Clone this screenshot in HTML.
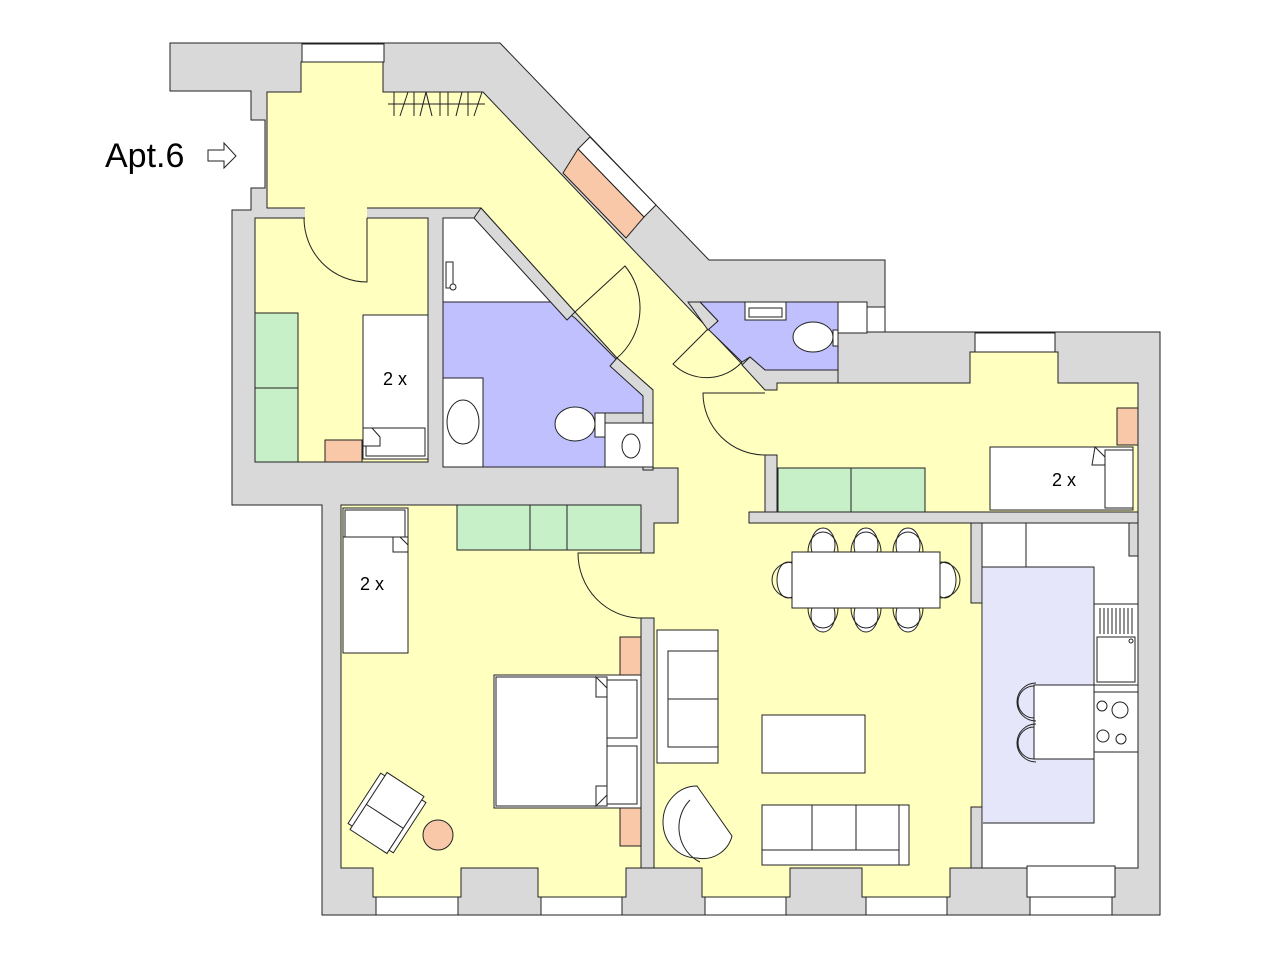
<!DOCTYPE html>
<html><head><meta charset="utf-8"><style>
html,body{margin:0;padding:0;background:#fff;}
svg{display:block;}
text{font-family:"Liberation Sans",sans-serif;}
</style></head><body>
<svg width="1266" height="960" viewBox="0 0 1266 960" xmlns="http://www.w3.org/2000/svg">
<g stroke="#222" stroke-width="1">
<polygon fill="#d9d9d9" points="170,43 500,43 709,260 885,260 885,332 1160,332 1160,915 322,915 322,505 232,505 232,210 251,210 251,188 265,188 265,120 251,120 251,91 170,91"/>

<polygon fill="#ffffc0" points="267,92 301,92 301,62 383,62 383,92 483,92 760,383 970,383 970,352 1058,352 1058,383 1138,383 1138,512 982,512 982,868 950,868 950,897 862,897 862,868 790,868 790,897 702,897 702,868 626,868 626,897 538,897 538,868 461,868 461,897 373,897 373,868 341,868 341,505 641,505 641,553 654,553 654,523 678,523 678,468 653,468 653,390 617,358 575,312 481,208 267,208"/>
<rect fill="#ffffc0" x="255" y="218" width="173" height="244"/>
<rect fill="#ffffc0" stroke="none" x="305" y="207" width="62" height="12"/>

<rect fill="#d9d9d9" x="641" y="618" width="13" height="250"/>
<rect fill="#d9d9d9" x="749" y="512" width="389" height="11"/>
<rect fill="#d9d9d9" x="765" y="455" width="12" height="57"/>
<rect fill="#d9d9d9" x="765" y="383" width="12" height="7"/>
<rect fill="#d9d9d9" x="971" y="523" width="11" height="80"/>
<rect fill="#d9d9d9" x="971" y="807" width="11" height="61"/>

<rect fill="#fff" x="982" y="523" width="156" height="345"/>
<rect fill="#fff" x="1027" y="866" width="88" height="31"/>
<rect fill="#d9d9d9" x="1129" y="523" width="9" height="33"/>
<rect fill="#e6e6fa" stroke="none" x="983" y="567" width="111" height="256"/>
<polyline fill="none" points="983,567 1094,567 1094,823 983,823"/>
<rect fill="#fff" x="982" y="523" width="44" height="44"/>
<rect fill="#fff" x="1094" y="604" width="44" height="81"/>
<rect fill="#fff" x="1097" y="637" width="38" height="45"/>
<g stroke-width="1">
<line x1="1100" y1="608" x2="1100" y2="634"/><line x1="1104" y1="608" x2="1104" y2="634"/><line x1="1108" y1="608" x2="1108" y2="634"/><line x1="1112" y1="608" x2="1112" y2="634"/><line x1="1116" y1="608" x2="1116" y2="634"/><line x1="1120" y1="608" x2="1120" y2="634"/><line x1="1124" y1="608" x2="1124" y2="634"/><line x1="1128" y1="608" x2="1128" y2="634"/><line x1="1132" y1="608" x2="1132" y2="634"/>
</g>
<circle fill="#fff" cx="1131" cy="641" r="2"/>
<rect fill="#fff" x="1094" y="692" width="44" height="60"/>
<circle fill="#fff" cx="1102" cy="706" r="5"/><circle fill="#fff" cx="1120" cy="710" r="8"/>
<circle fill="#fff" cx="1103" cy="736" r="6"/><circle fill="#fff" cx="1121" cy="739" r="5"/>
<rect fill="#fff" x="1034" y="685" width="60" height="74"/>
<path fill="none" d="M1034,686 A16,16 0 0 0 1034,718 M1036,683 A19,19 0 0 0 1036,721"/>
<path fill="none" d="M1034,727 A16,16 0 0 0 1034,759 M1036,724 A19,19 0 0 0 1036,762"/>

<polygon fill="#fff" points="443,218 476,218 552,302 443,302"/>
<polygon fill="#c0c0ff" points="443,302 552,302 575,318 617,360 643,390 643,413 605,413 605,467 443,467"/>
<polygon fill="#d9d9d9" points="481,208 575,312 567,320 474,218"/>
<polygon fill="#d9d9d9" points="617,358 653,390 653,470 643,470 643,396 610,366"/>
<rect fill="#fff" x="443" y="378" width="40" height="89"/>
<ellipse fill="#fff" cx="463" cy="422" rx="16" ry="22"/>
<rect fill="#fff" x="605" y="423" width="48" height="44"/>
<ellipse fill="#fff" cx="631" cy="446" rx="9" ry="12"/>
<ellipse fill="#fff" cx="575" cy="424" rx="20" ry="17"/>
<rect fill="#fff" x="595" y="413" width="10" height="24"/>
<rect fill="#fff" x="446" y="262" width="7" height="26"/>
<circle fill="#fff" cx="453" cy="287" r="3"/>

<polygon fill="#c0c0ff" points="700,302 838,302 838,370 765,370 750,357 742,362 708,329 718,321"/>
<polygon fill="#d9d9d9" points="688,302 700,302 718,321 708,330"/>
<polygon fill="#d9d9d9" points="750,357 765,370 838,370 838,383 777,383 777,390 765,390 742,365"/>
<rect fill="#fff" x="745" y="302" width="41" height="18"/>
<rect fill="#fff" x="749" y="308" width="33" height="9"/>
<ellipse fill="#fff" cx="813" cy="337" rx="20" ry="15"/>
<rect fill="#fff" x="833" y="330" width="5" height="16"/>
<rect fill="#fff" x="838" y="302" width="29" height="31"/>
<rect fill="#fff" x="867" y="307" width="18" height="25"/>

<rect fill="#fff" x="302" y="44" width="82" height="18"/>
<rect fill="#fff" x="975" y="333" width="80" height="19"/>
<rect fill="#fff" x="376" y="897" width="82" height="18"/>
<rect fill="#fff" x="541" y="897" width="81" height="18"/>
<rect fill="#fff" x="705" y="897" width="81" height="18"/>
<rect fill="#fff" x="866" y="897" width="81" height="18"/>
<rect fill="#fff" x="1030" y="897" width="82" height="18"/>
<polygon fill="#fff" points="590,137 656,205 644,217 578,149"/>
<polygon fill="#f8c8a8" points="563,173 578,149 644,217 626,238"/>

<g fill="none">
<line x1="388" y1="104" x2="485" y2="104"/>
<line x1="394" y1="92" x2="394" y2="116"/><line x1="400" y1="116" x2="408" y2="92"/><line x1="414" y1="92" x2="414" y2="116"/>
<line x1="420" y1="116" x2="426" y2="92"/><line x1="426" y1="92" x2="432" y2="116"/><line x1="440" y1="92" x2="440" y2="116"/>
<line x1="448" y1="92" x2="448" y2="116"/><line x1="456" y1="116" x2="462" y2="92"/><line x1="468" y1="92" x2="468" y2="116"/><line x1="474" y1="116" x2="482" y2="92"/>
</g>

<path fill="none" d="M367,218 L367,282 A63,64 0 0 1 304,218"/>
<path fill="none" d="M575,312 L625,266 A66,66 0 0 1 617,358"/>
<path fill="none" d="M708,329 L673,364 A48,48 0 0 0 742,362"/>
<path fill="none" d="M765,393 L703,393 A62,62 0 0 0 765,455"/>
<path fill="none" d="M641,553 L578,553 A63,65 0 0 0 641,618"/>

<rect fill="#c8f0c8" x="255" y="313" width="43" height="75"/>
<rect fill="#c8f0c8" x="255" y="388" width="43" height="74"/>
<rect fill="#fff" x="363" y="315" width="65" height="144"/>
<rect fill="#fff" x="366" y="428" width="59" height="28"/>
<polygon fill="#fff" points="363,428 372,428 380,437 380,446 363,446"/>
<text x="395" y="385" font-size="18" text-anchor="middle" fill="#000" stroke="none">2 x</text>
<rect fill="#f8c8a8" x="325" y="440" width="37" height="22"/>

<rect fill="#f8c8a8" x="1117" y="408" width="21" height="37"/>
<rect fill="#fff" x="990" y="447" width="143" height="63"/>
<rect fill="#fff" x="1105" y="450" width="28" height="58"/>
<polygon fill="#fff" points="1095,447 1105,457 1105,465 1092,465"/>
<text x="1064" y="486" font-size="18" text-anchor="middle" fill="#000" stroke="none">2 x</text>
<rect fill="#c8f0c8" x="778" y="468" width="73" height="44"/>
<rect fill="#c8f0c8" x="851" y="468" width="74" height="44"/>

<rect fill="#fff" x="343" y="508" width="65" height="145"/>
<rect fill="#fff" x="345" y="510" width="60" height="27"/>
<rect fill="#fff" x="343" y="537" width="65" height="116"/>
<polygon fill="#fff" points="393,537 400,537 408,545 408,552 393,552"/>
<text x="372" y="590" font-size="18" text-anchor="middle" fill="#000" stroke="none">2 x</text>
<rect fill="#c8f0c8" x="457" y="505" width="73" height="45"/>
<rect fill="#c8f0c8" x="530" y="505" width="37" height="45"/>
<rect fill="#c8f0c8" x="567" y="505" width="74" height="45"/>
<rect fill="#f8c8a8" x="620" y="637" width="21" height="38"/>
<rect fill="#f8c8a8" x="620" y="808" width="21" height="38"/>
<rect fill="#fff" x="494" y="675" width="147" height="133"/>
<rect fill="#fff" x="496" y="677" width="111" height="129"/>
<rect fill="#fff" x="607" y="680" width="30" height="58"/>
<rect fill="#fff" x="607" y="746" width="30" height="58"/>
<polygon fill="#fff" points="596,677 607,688 607,697 596,697"/>
<polygon fill="#fff" points="596,806 607,795 607,786 596,786"/>
<g transform="translate(387,813) rotate(33)">
<rect fill="#fff" x="-27" y="-30" width="6" height="60"/>
<rect fill="#fff" x="21" y="-30" width="6" height="60"/>
<rect fill="#fff" x="-22" y="-34" width="44" height="68"/>
<line x1="-22" y1="4" x2="22" y2="4"/>
</g>
<circle fill="#f8c8a8" cx="438" cy="835" r="15"/>

<rect fill="#fff" x="657" y="630" width="61" height="133"/>
<rect fill="#fff" x="668" y="651" width="50" height="96"/>
<line x1="668" y1="699" x2="718" y2="699"/>
<rect fill="#fff" x="762" y="715" width="103" height="58"/>
<rect fill="#fff" x="762" y="805" width="147" height="60"/>
<line x1="762" y1="850" x2="899" y2="850"/>
<line x1="899" y1="805" x2="899" y2="865"/>
<line x1="812" y1="805" x2="812" y2="850"/><line x1="856" y1="805" x2="856" y2="850"/>
<path fill="#fff" d="M697,786 L732,836 A30,30 0 0 1 697,858 A34,36 0 0 1 697,786 Z"/>
<path fill="none" d="M690,800 A36,38 0 0 0 700,862"/>
<g fill="#fff">
<ellipse cx="823" cy="545" rx="12" ry="17"/><ellipse cx="866" cy="545" rx="12" ry="17"/><ellipse cx="908" cy="545" rx="12" ry="17"/>
<ellipse cx="823" cy="615" rx="12" ry="17"/><ellipse cx="866" cy="615" rx="12" ry="17"/><ellipse cx="908" cy="615" rx="12" ry="17"/>
<ellipse cx="788" cy="580" rx="11" ry="18"/><ellipse cx="945" cy="580" rx="11" ry="18"/>
</g>
<g fill="none">
<path d="M808,552 A15,20 0 0 1 838,552"/><path d="M851,552 A15,20 0 0 1 881,552"/><path d="M893,552 A15,20 0 0 1 923,552"/>
<path d="M808,608 A15,20 0 0 0 838,608"/><path d="M851,608 A15,20 0 0 0 881,608"/><path d="M893,608 A15,20 0 0 0 923,608"/>
<path d="M792,562 A20,18 0 0 0 792,598"/><path d="M940,562 A20,18 0 0 1 940,598"/>
</g>
<rect fill="#fff" x="792" y="552" width="148" height="56"/>

<polygon fill="#fff" points="208,150 224,150 224,143 236,156 224,168 224,161 208,161"/>
</g>
<text x="105" y="167" font-size="34" fill="#000">Apt.6</text>
</svg>
</body></html>
